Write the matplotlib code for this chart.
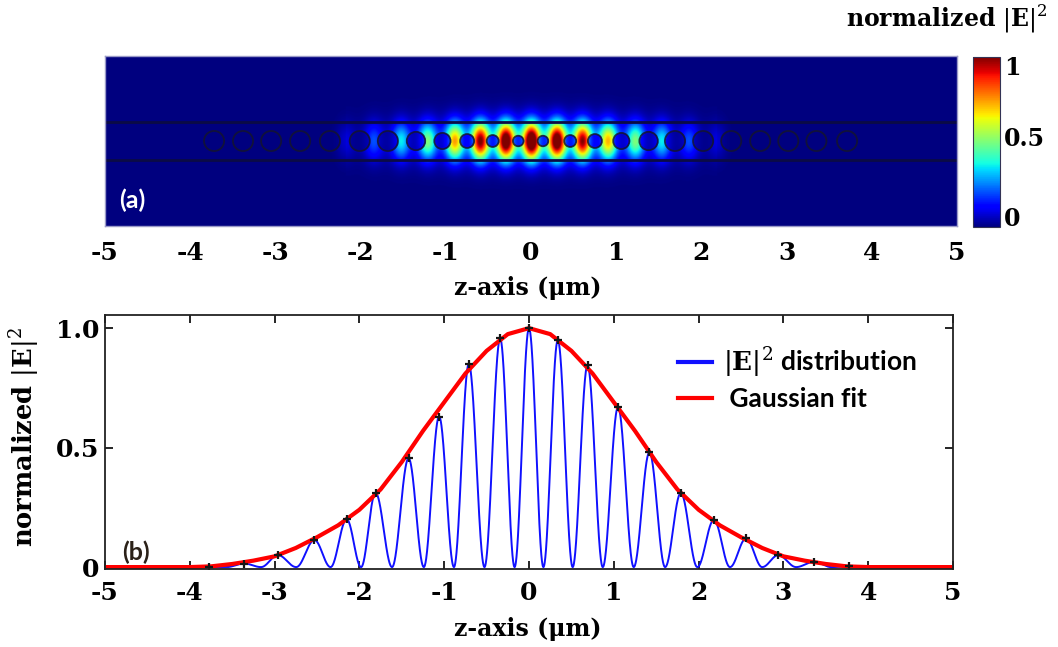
# Field profile of a tapered photonic crystal nanobeam cavity
import numpy as np
import matplotlib.pyplot as plt
from matplotlib.patches import Circle

plt.rcParams['mathtext.fontset'] = 'custom'
plt.rcParams['mathtext.rm'] = 'DejaVu Serif'
plt.rcParams['mathtext.bf'] = 'DejaVu Serif:bold'

# Peaks of the |E|^2 distribution (z in um, normalized height)
peak_z = [-3.77, -3.36, -2.96, -2.53, -2.15, -1.81, -1.42, -1.06, -0.71, -0.34, 0.0,
          0.34, 0.69, 1.05, 1.42, 1.79, 2.18, 2.56, 2.94, 3.36, 3.77]
peak_h = [0.0, 0.015, 0.05, 0.113, 0.2, 0.311, 0.455, 0.63, 0.85, 0.957, 1.0,
          0.95, 0.845, 0.67, 0.48, 0.31, 0.197, 0.12, 0.05, 0.022, 0.003]

# Gaussian fit read every 0.25 um from -5 to 5
fit_val = [0, 0, 0, 0, 0, 0.003, 0.013, 0.027, 0.045, 0.08, 0.125, 0.175, 0.24, 0.325,
           0.44, 0.57, 0.69, 0.81, 0.905, 0.975, 1.0, 0.975, 0.905, 0.81, 0.69, 0.57,
           0.44, 0.325, 0.24, 0.175, 0.125, 0.08, 0.045, 0.027, 0.013, 0.003, 0, 0, 0, 0, 0]

# Bright spots in the field map (z in um, normalized intensity)
spot_z = [-2.18, -1.85, -1.53, -1.22, -0.90, -0.60, -0.30, 0.0, 0.30, 0.60, 0.90, 1.22, 1.53, 1.85, 2.18]
spot_i = [0.07, 0.17, 0.3, 0.42, 0.62, 0.85, 0.95, 1.0, 0.95, 0.83, 0.6, 0.42, 0.3, 0.17, 0.07]

# Air holes of the tapered nanobeam (z and radius in um)
hole_z = [-3.72, -3.38, -3.05, -2.71, -2.36, -2.01, -1.68, -1.35, -1.04, -0.75, -0.45, -0.15,
          0.14, 0.46, 0.75, 1.06, 1.38, 1.69, 2.02, 2.35, 2.69, 3.02, 3.35, 3.71]
hole_r = [0.118, 0.118, 0.118, 0.118, 0.118, 0.118, 0.118, 0.108, 0.095, 0.082, 0.07, 0.062,
          0.062, 0.07, 0.082, 0.095, 0.108, 0.118, 0.118, 0.118, 0.118, 0.118, 0.118, 0.118]
beam_half = 0.22

ticks = [-5, -4, -3, -2, -1, 0, 1, 2, 3, 4, 5]
serif = 'DejaVu Serif'


def lobes(z, pz, ph):
    # one sin^2 shaped lobe per peak, falling to zero half way to the next peak
    out = np.zeros_like(z)
    for i in range(len(pz) - 1):
        a, b = pz[i], pz[i + 1]
        m = 0.5 * (a + b)
        s = (z >= a) & (z < m)
        out[s] = ph[i] * np.cos(0.5 * np.pi * (z[s] - a) / (m - a)) ** 2
        s = (z >= m) & (z <= b)
        out[s] = ph[i + 1] * np.cos(0.5 * np.pi * (b - z[s]) / (b - m)) ** 2
    return out


fig = plt.figure(figsize=(10.58, 6.47), dpi=100)
ax1 = fig.add_axes([105 / 1058, (647 - 226) / 647, 852 / 1058, 170 / 647])
cax = fig.add_axes([973 / 1058, (647 - 227) / 647, 27 / 1058, 170 / 647])
ax2 = fig.add_axes([105 / 1058, (647 - 569) / 647, 848 / 1058, 254 / 647])

# (a) field map
Z, Y = np.meshgrid(np.linspace(-5, 5, 1400), np.linspace(-1, 1, 280))
field = np.zeros_like(Z)
for z0, i0 in zip(spot_z, spot_i):
    field += i0 * np.exp(-(Z - z0) ** 2 / (2 * 0.075 ** 2)) * np.exp(-Y ** 2 / (2 * 0.155 ** 2))
env = np.interp(Z, spot_z, spot_i, left=0, right=0)
field += 0.2 * env * np.exp(-Y ** 2 / (2 * 0.2 ** 2))
for hz, hr in zip(hole_z, hole_r):
    field[(Z - hz) ** 2 + Y ** 2 < hr ** 2] *= 0.35
field = np.clip(field, 0, 1)

im = ax1.imshow(field, extent=[-5, 5, -1, 1], origin='lower', cmap='jet', vmin=0, vmax=1,
                aspect='auto', interpolation='bilinear')
for yb in (-beam_half, beam_half):
    ax1.axhline(yb, color='#0b0b45', lw=2)
for hz, hr in zip(hole_z, hole_r):
    ax1.add_patch(Circle((hz, 0), hr, fill=False, ec='#15152e', lw=1.3, alpha=0.85))
ax1.set_xlim(-5, 5)
ax1.set_ylim(-1, 1)
ax1.set_xticks(ticks)
ax1.set_xticklabels([str(t) for t in ticks])
ax1.set_yticks([])
ax1.tick_params(axis='x', length=0, pad=11, labelsize=18)
for lab in ax1.get_xticklabels():
    lab.set_fontfamily(serif)
    lab.set_fontweight('bold')
for sp in ax1.spines.values():
    sp.set_color('#9a9ac8')
    sp.set_linewidth(1)
ax1.text(-4.84, -0.79, '(a)', color='white', fontsize=18, fontweight='bold', family='Lato')
fig.text(528 / 1058, 1 - 288 / 647, 'z-axis (\u03bcm)', ha='center', va='center',
         family=serif, fontweight='bold', fontsize=17)

cb = fig.colorbar(im, cax=cax)
cb.set_ticks([0.06, 0.53, 0.95])
cb.set_ticklabels(['0', '0.5', '1'])
cb.ax.tick_params(length=0, pad=3, labelsize=17)
for lab in cb.ax.get_yticklabels():
    lab.set_fontfamily(serif)
    lab.set_fontweight('bold')
cb.outline.set_edgecolor('#333355')
fig.text(947 / 1058, 1 - 19 / 647, r'normalized $|\mathbf{E}|^2$', ha='center', va='center',
         family=serif, fontweight='bold', fontsize=17)

# (b) line profile
zz = np.linspace(-5, 5, 4001)
ax2.plot(zz, lobes(zz, np.array(peak_z), np.array(peak_h)), color='#1010ff', lw=1.4,
         label=r'$|\mathbf{E}|^2$ distribution')
fit_z = np.arange(-5, 5.001, 0.25)
ax2.plot(fit_z, fit_val, color='#ff0000', lw=3, label=' Gaussian fit')
ax2.plot(peak_z, peak_h, ls='none', marker='+', ms=6, mew=1.6, color='#151515')
ax2.set_xlim(-5, 5)
ax2.set_ylim(-0.008, 1.055)
ax2.set_xticks(ticks)
ax2.set_xticklabels([str(t) for t in ticks])
ax2.set_yticks([0, 0.5, 1.0])
ax2.set_yticklabels(['0', '0.5', '1.0'])
ax2.tick_params(direction='in', length=6, width=1.2, top=True, right=True, labelsize=18)
ax2.tick_params(axis='x', pad=9)
ax2.tick_params(axis='y', pad=4)
for lab in ax2.get_xticklabels() + ax2.get_yticklabels():
    lab.set_fontfamily(serif)
    lab.set_fontweight('bold')
for sp in ax2.spines.values():
    sp.set_color('#222222')
    sp.set_linewidth(1.3)
ax2.text(-4.8, 0.03, '(b)', color='#2b2118', fontsize=18, fontweight='bold', family='Lato')
fig.text(528 / 1058, 1 - 629 / 647, 'z-axis (\u03bcm)', ha='center', va='center',
         family=serif, fontweight='bold', fontsize=17)
fig.text(24 / 1058, 1 - 437 / 647, r'normalized $|\mathbf{E}|^2$', ha='center', va='center',
         rotation=90, family=serif, fontweight='bold', fontsize=18.5)

leg = ax2.legend(loc='upper right', bbox_to_anchor=(0.985, 0.975), frameon=False,
                 handlelength=1.3, handletextpad=0.4, labelspacing=0.25,
                 prop={'family': 'Lato', 'weight': 'bold', 'size': 19})
for ln in leg.get_lines():
    ln.set_linewidth(3)

fig.savefig('out.png', dpi=100)
